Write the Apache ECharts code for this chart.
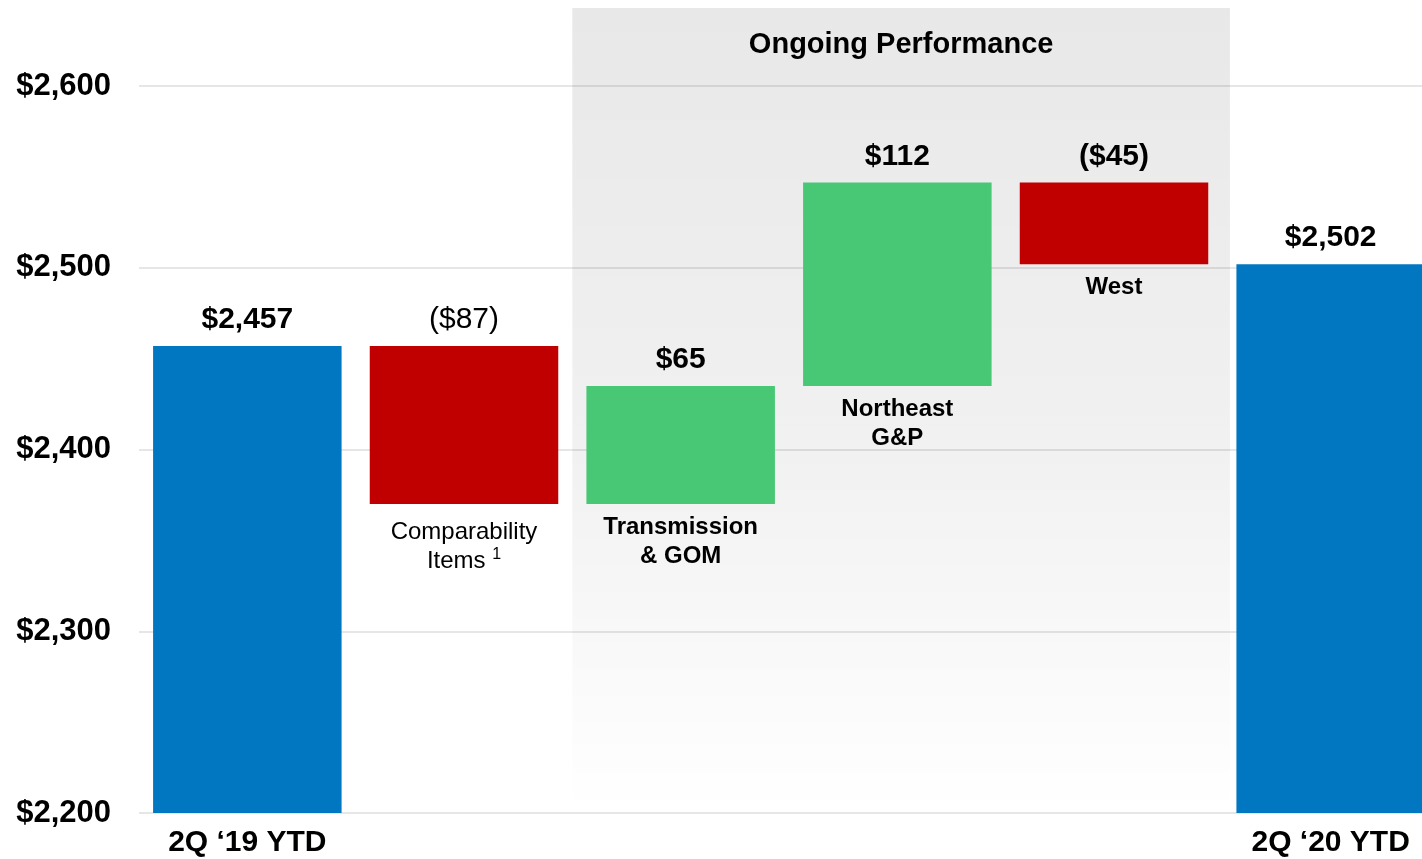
<!DOCTYPE html>
<html>
<head>
<meta charset="utf-8">
<script src="https://cdn.jsdelivr.net/npm/echarts@6/dist/echarts.min.js"></script>
<style>
  html, body { margin: 0; padding: 0; background: #fff; }
  #main { width: 1422px; height: 859px; }
</style>
</head>
<body>
<div id="main"></div>
<script>
// data
const categories = ['2Q ‘19 YTD', 'Comparability', 'Transmission', 'Northeast', 'West', '2Q ‘20 YTD'];
const axisLabels = ['2Q ‘19 YTD', '', '', '', '', '2Q ‘20 YTD'];
const baseValues = [0, 2370, 2370, 2435, 2502, 0];     // invisible part of the waterfall
const barValues = [2457, 87, 65, 112, 45, 2502];        // visible part
const barKinds = ['total', 'down', 'up', 'up', 'down', 'total'];
const topLabels = ['$2,457', '($87)', '$65', '$112', '($45)', '$2,502'];
const topBold = [true, false, true, true, true, true];
const bottomLabels = ['', 'Comparability\nItems {sup|1}', 'Transmission\n& GOM', 'Northeast\nG&P', 'West', ''];
const bottomBold = [false, false, true, true, true, false];
const yTicks = [2200, 2300, 2400, 2500, 2600];
const ongoingSpan = [2, 5.035];   // position on the hidden 0..6 axis
const ongoingTitle = 'Ongoing Performance';

const colors = { total: '#0077c0', down: '#c00000', up: '#48c774' };
const font = 'Liberation Sans, Arial, sans-serif';

const chart = echarts.init(document.getElementById('main'));

const option = {
  animation: false,
  backgroundColor: '#ffffff',
  grid: { left: 139, right: -17, top: 8, bottom: 46, containLabel: false, outerBoundsMode: 'none' },
  xAxis: [
    {
      type: 'category',
      data: categories,
      axisLine: { show: false },
      axisTick: { show: false },
      axisLabel: {
        interval: 0,
        margin: 15,
        color: '#000',
        fontFamily: font,
        fontWeight: 'bold',
        fontSize: 30,
        formatter: (v, i) => axisLabels[i]
      }
    },
    { type: 'value', min: 0, max: 6, show: false }
  ],
  yAxis: {
    type: 'value',
    min: yTicks[0],
    max: 2643,
    interval: 100,
    axisLine: { show: false },
    axisTick: { show: false },
    axisLabel: {
      margin: 28,
      color: '#000',
      fontFamily: font,
      fontWeight: 'bold',
      fontSize: 31,
      showMaxLabel: false,
      formatter: v => yTicks.includes(v) ? '$' + v.toLocaleString('en-US') : ''
    },
    splitLine: { show: true, showMaxLine: false, lineStyle: { color: '#e6e6e6', width: 2 } }
  },
  series: [
    {
      type: 'line',
      xAxisIndex: 1,
      data: [],
      z: 1,
      silent: true,
      markArea: {
        silent: true,
        itemStyle: {
          color: new echarts.graphic.LinearGradient(0, 0, 0, 1, [
            { offset: 0, color: 'rgba(0,0,0,0.09)' },
            { offset: 0.55, color: 'rgba(0,0,0,0.055)' },
            { offset: 1, color: 'rgba(0,0,0,0)' }
          ])
        },
        label: {
          show: true,
          position: 'insideTop',
          distance: 22,
          color: '#000',
          fontFamily: font,
          fontWeight: 'bold',
          fontSize: 29
        },
        data: [[
          { name: ongoingTitle, xAxis: ongoingSpan[0], yAxis: 2643 },
          { xAxis: ongoingSpan[1], yAxis: 2200 }
        ]]
      }
    },
    {
      name: 'base',
      type: 'bar',
      stack: 'wf',
      barWidth: '87%',
      z: 2,
      itemStyle: { color: 'transparent' },
      data: baseValues.map((v, i) => ({
        value: v,
        label: {
          show: bottomLabels[i] !== '',
          position: 'insideTop',
          distance: i === 1 ? 14 : 9,
          formatter: bottomLabels[i],
          color: '#000',
          fontFamily: font,
          fontSize: 24,
          lineHeight: 29,
          fontWeight: bottomBold[i] ? 'bold' : 'normal',
          rich: {
            sup: { fontSize: 16, fontFamily: font, color: '#000', padding: [0, 0, 14, 0] }
          }
        }
      }))
    },
    {
      name: 'change',
      type: 'bar',
      stack: 'wf',
      barWidth: '87%',
      z: 3,
      data: barValues.map((v, i) => ({
        value: v,
        itemStyle: { color: colors[barKinds[i]] },
        label: {
          show: true,
          position: 'top',
          distance: 11,
          formatter: topLabels[i],
          color: '#000',
          fontFamily: font,
          fontSize: 30,
          fontWeight: topBold[i] ? 'bold' : 'normal'
        }
      }))
    }
  ]
};

chart.setOption(option);
</script>
</body>
</html>
